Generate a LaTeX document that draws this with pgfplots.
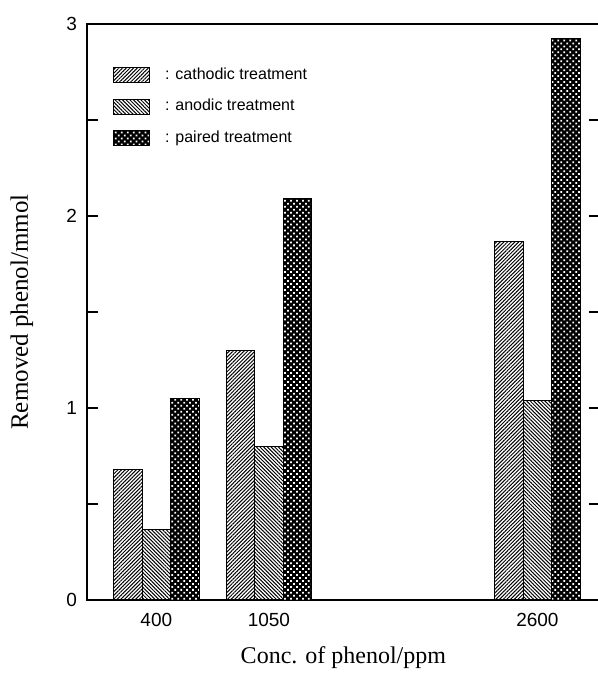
\documentclass[border=0pt]{standalone}
\usepackage{fontspec}
\setmainfont{Liberation Sans}
\newfontfamily\seriffont{Liberation Serif}
\usepackage{pgfplots}
\pgfplotsset{compat=1.18}
\usetikzlibrary{patterns.meta}

\pgfplotsset{
  cathodic/.style={draw=black, line width=0.5pt,
    pattern={Lines[angle=45,distance=1.3pt,line width=0.5pt]}},
  anodic/.style={draw=black, line width=0.5pt,
    pattern={Lines[angle=-45,distance=1.3pt,line width=0.5pt]}},
  paired/.style={draw=black, line width=0.5pt, preaction={fill=black},
    pattern={Dots[angle=45,distance=2.1pt,radius=0.62pt]}, pattern color=white},
}

\begin{document}
\begin{tikzpicture}
\useasboundingbox (-43.5pt,-38pt) rectangle (255.5pt,300pt);
\begin{axis}[
  at={(0,0)}, anchor=south west,
  scale only axis, width=256.4pt, height=288pt,
  xmin=0, xmax=2960, ymin=0, ymax=3,
  ybar, bar width=165,
  xtick={400,1050,2600}, xtick style={draw=none},
  ytick={0,1,2,3}, minor ytick={0.5,1.5,2.5},
  tick align=inside, major tick length=5.5pt, minor tick length=5.5pt,
  axis line style={line width=0.6pt},
  every tick/.style={black, line width=0.6pt},
  tick label style={font=\fontsize{9.5}{10}\selectfont},
  /pgf/number format/assume math mode=true,
  /pgf/number format/1000 sep={},
  yticklabel style={xshift=-1.5pt},
  xticklabel style={yshift=-3pt},
  xlabel={Conc. of phenol/ppm},
  ylabel={Removed phenol/mmol},
  xlabel style={at={(axis description cs:0.5,-0.1)}, anchor=center,
    font=\seriffont\fontsize{12}{14}\selectfont},
  ylabel style={at={(axis description cs:-0.127,0.5)}, anchor=center,
    font=\seriffont\fontsize{12.5}{14}\selectfont},
  legend image code/.code={\draw[#1] (0pt,-3.75pt) rectangle (18pt,3.75pt);},
  legend cell align=left,
  legend style={draw=none, fill=none, inner sep=0pt,
    at={(axis description cs:0.05,0.932)}, anchor=north west,
    font=\fontsize{8}{9}\selectfont, row sep=4.6pt,
    /tikz/every odd column/.append style={column sep=5.5pt}},
]
\addplot[cathodic, bar shift=-165] coordinates {(400,0.68) (1050,1.30) (2600,1.865)};
\addplot[anodic, bar shift=0] coordinates {(400,0.365) (1050,0.80) (2600,1.04)};
\addplot[paired, bar shift=165] coordinates {(400,1.05) (1050,2.09) (2600,2.925)};
\legend{: cathodic treatment, : anodic treatment, : paired treatment}
\end{axis}
\end{tikzpicture}
\end{document}
